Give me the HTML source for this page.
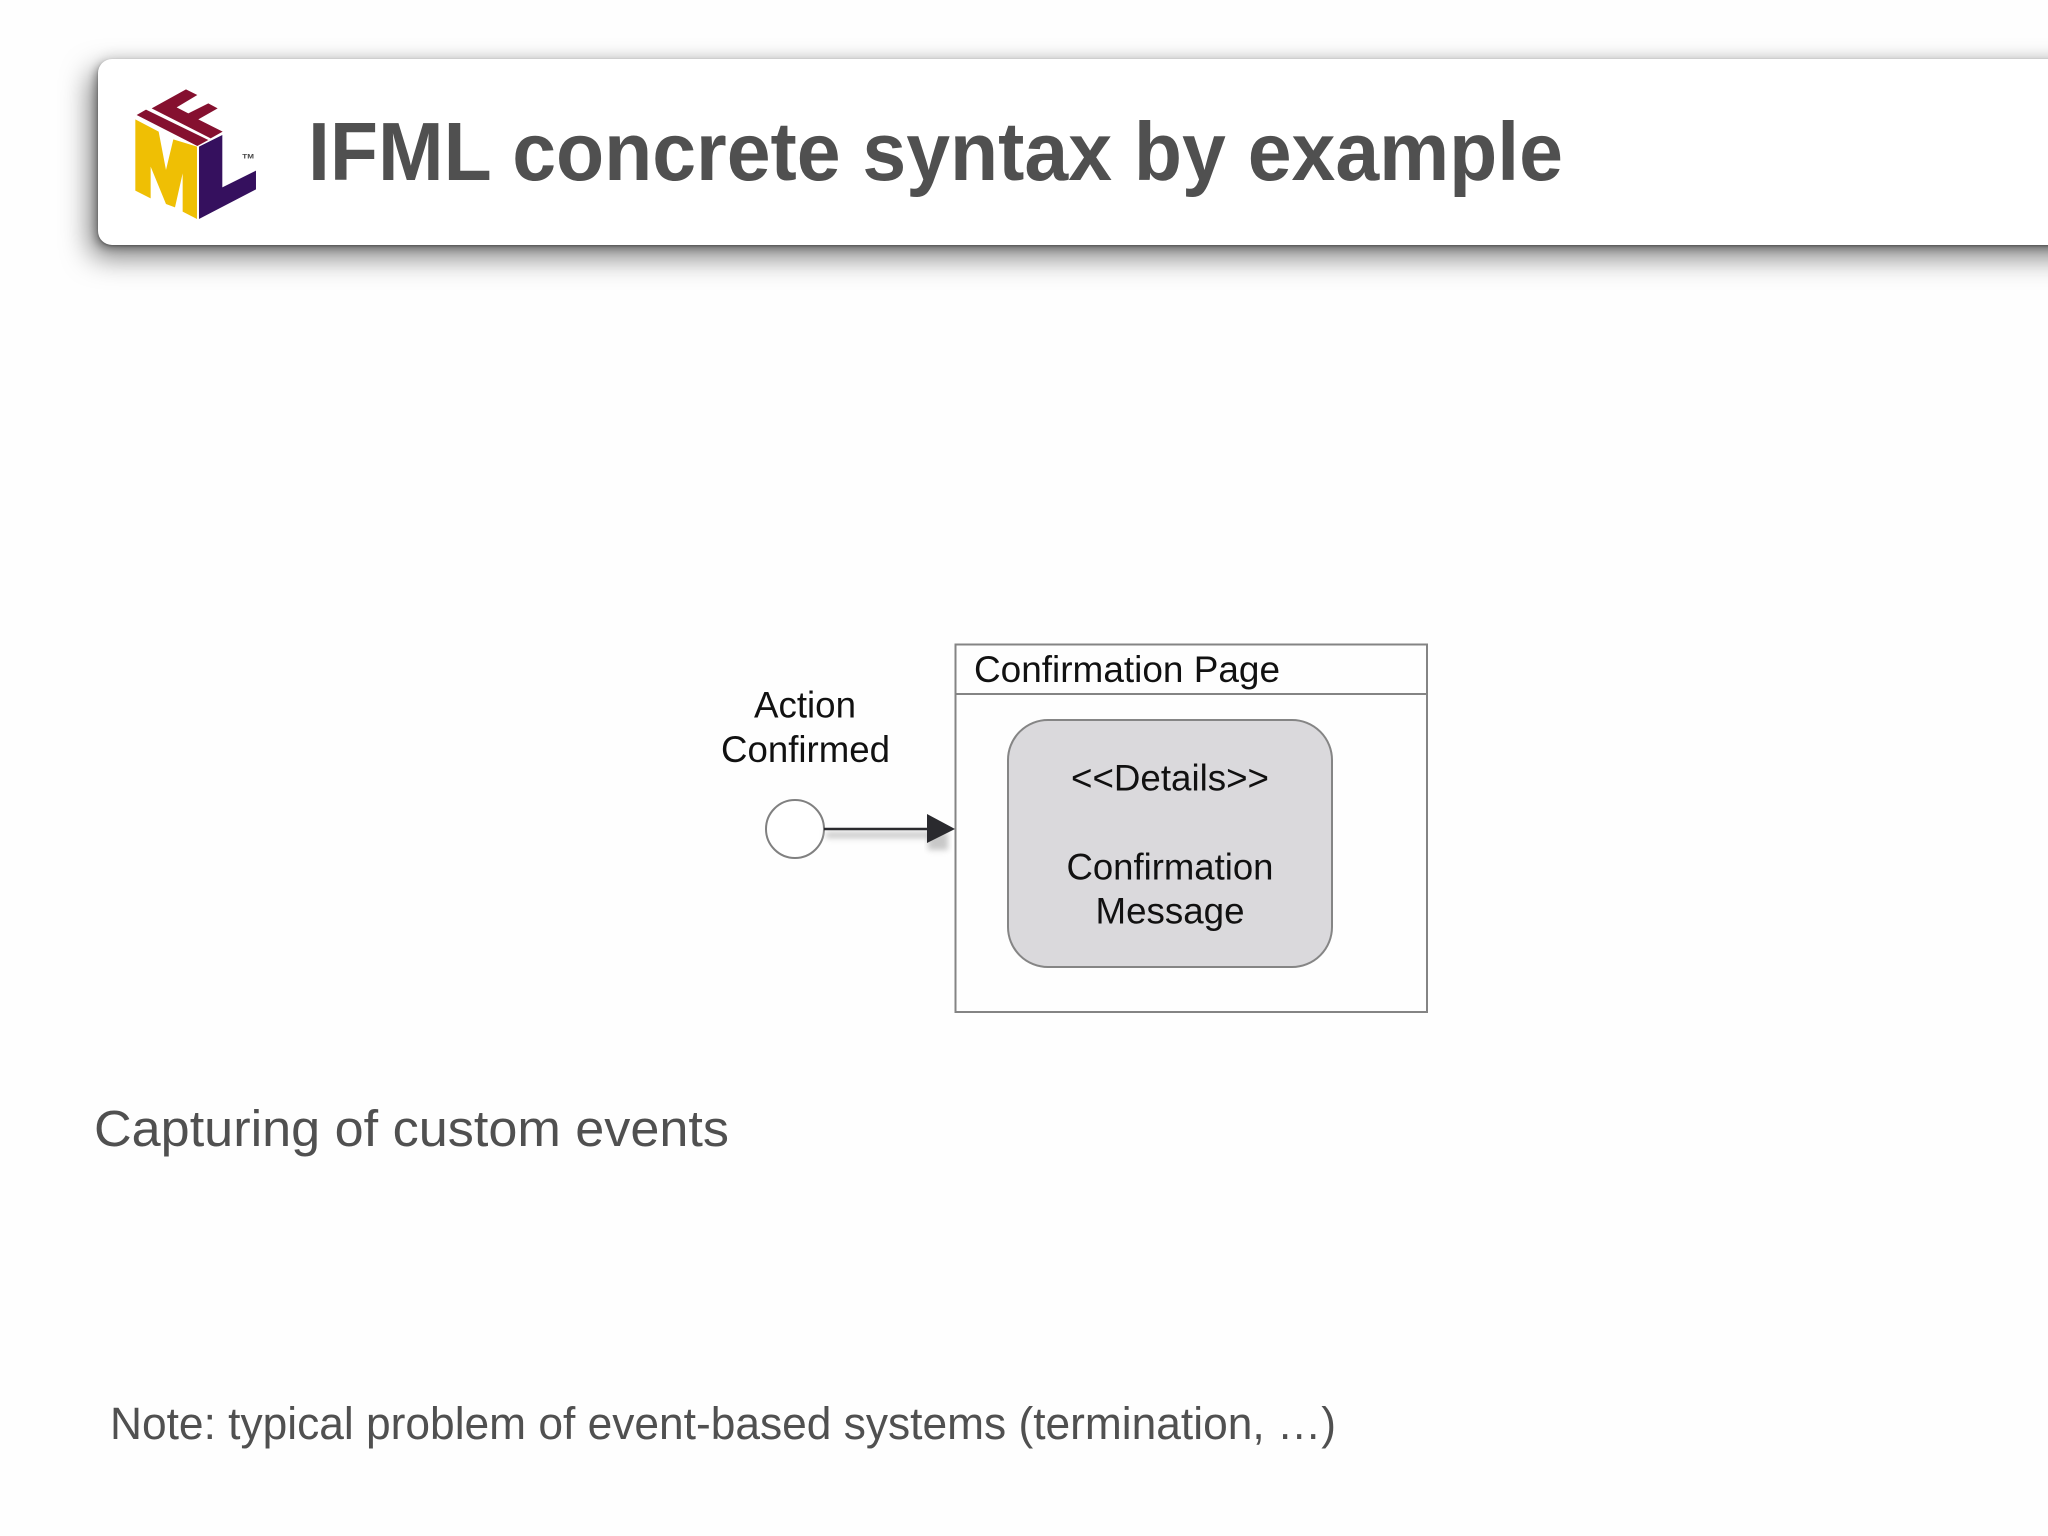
<!DOCTYPE html>
<html>
<head>
<meta charset="utf-8">
<style>
html,body{margin:0;padding:0;width:2048px;height:1536px;overflow:hidden;background:#fefefe}
#card{position:absolute;left:98px;top:59px;width:2100px;height:186px;background:#fff;border-radius:14px;
box-shadow:-8px 12px 28px rgba(0,0,0,.5),-3px 4px 8px rgba(0,0,0,.25),0 1px 2px rgba(0,0,0,.3),0 -4px 12px rgba(0,0,0,.07)}
svg{position:absolute;left:0;top:0}
text{font-family:"Liberation Sans",Arial,sans-serif}
</style>
</head>
<body>
<div id="card"></div>
<svg width="2048" height="1536" viewBox="0 0 2048 1536">
<defs><filter id="b" x="-20%" y="-200%" width="140%" height="500%"><feGaussianBlur stdDeviation="3"/></filter></defs>
<g transform="translate(60,30) scale(0.3333)">
<polygon fill="#efbf04" points="226,268 296,305 318,420 340,328 411,350 411,567 368,545 368,430 345,532 318,522 272,410 272,505 226,482"/>
<polygon fill="#35105e" points="417,350 487,315 487,472 588,422 588,478 417,567"/>
<polygon fill="#85102f" points="230,255 258,239 445,330 412,348"/>
<polygon fill="#85102f" points="275,235 378,178 412,195 350,232 385,250 445,220 473,235 415,268 488,305 452,325"/>
<text x="547" y="385" font-size="20" font-weight="bold" fill="#444" textLength="35" lengthAdjust="spacingAndGlyphs">TM</text>
</g>
<text x="308" y="180" font-size="83" font-weight="bold" fill="#505050" textLength="1255" lengthAdjust="spacingAndGlyphs">IFML concrete syntax by example</text>

<rect x="955.500" y="644.500" width="471.500" height="367.500" fill="#fefefe" stroke="#848484" stroke-width="2"/>
<line x1="955.500" y1="694" x2="1427" y2="694" stroke="#848484" stroke-width="2"/>
<rect x="1008" y="720" width="324" height="247" rx="40" ry="40" fill="#dad9dc" stroke="#858585" stroke-width="2"/>
<circle cx="795" cy="829" r="29" fill="#fff" stroke="#808080" stroke-width="2"/>
<rect x="826" y="832" width="104" height="6" fill="#c8c8c8" filter="url(#b)"/>
<rect x="928" y="832" width="20" height="18" fill="#c8c8c8" filter="url(#b)"/>
<line x1="824" y1="829" x2="930" y2="829" stroke="#2a2a2e" stroke-width="2.500"/>
<polygon points="927,814 955,829 927,843" fill="#2a2a2e"/>

<g fill="#111" font-size="37">
<text x="974" y="682" textLength="306" lengthAdjust="spacingAndGlyphs">Confirmation Page</text>
<text x="754" y="717.500" textLength="102" lengthAdjust="spacingAndGlyphs">Action</text>
<text x="721" y="762" textLength="169" lengthAdjust="spacingAndGlyphs">Confirmed</text>
<text x="1071" y="790.500" textLength="198" lengthAdjust="spacingAndGlyphs">&lt;&lt;Details&gt;&gt;</text>
<text x="1066.500" y="879.500" textLength="207" lengthAdjust="spacingAndGlyphs">Confirmation</text>
<text x="1095.500" y="923.500" textLength="149" lengthAdjust="spacingAndGlyphs">Message</text>
</g>
<text x="94" y="1146" font-size="51" fill="#505050" textLength="635" lengthAdjust="spacingAndGlyphs">Capturing of custom events</text>
<text x="110" y="1439" font-size="45" fill="#505050" textLength="1226" lengthAdjust="spacingAndGlyphs">Note: typical problem of event-based systems (termination, …)</text>
</svg>
</body>
</html>
